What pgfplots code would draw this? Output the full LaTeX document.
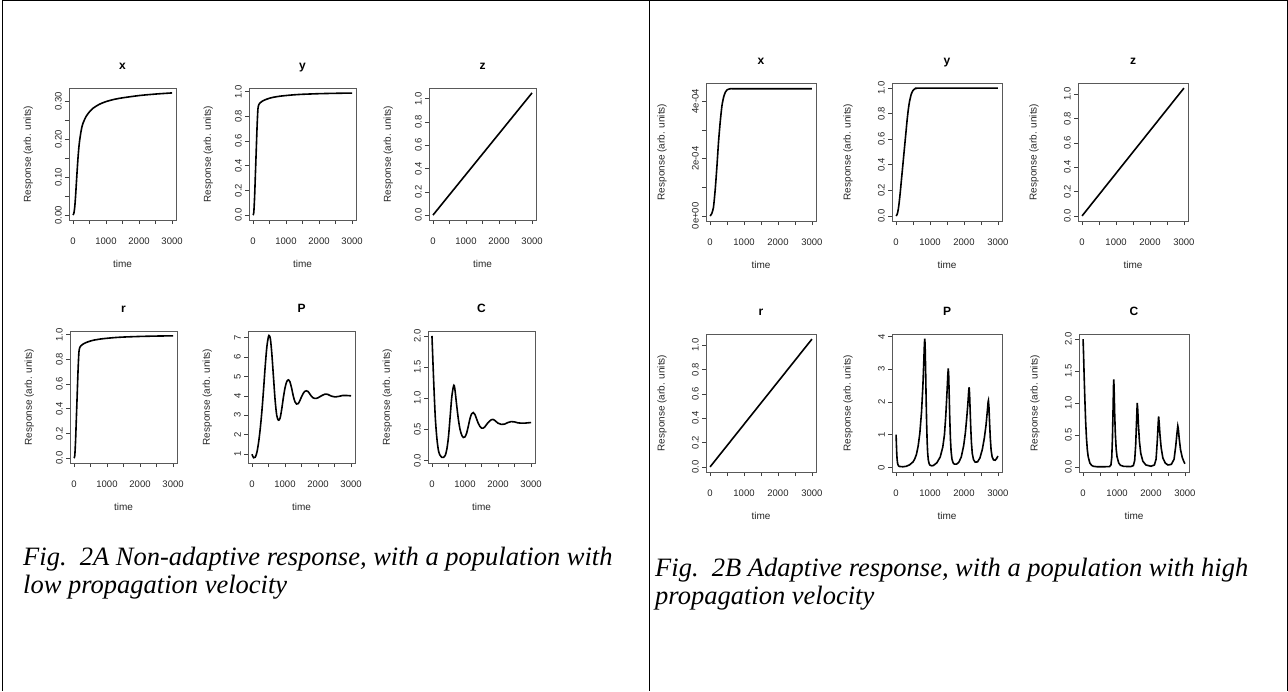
\documentclass[border=0pt]{standalone}
\usepackage{fontspec}
\setmainfont{Liberation Sans}
\newfontfamily\capfont{Liberation Serif}
\usepackage{pgfplots}
\pgfplotsset{compat=1.18}

\pgfplotsset{
  rplot/.style={
    scale only axis, anchor=south west,
    xmin=-120, xmax=3120,
    xtick={0,500,1000,1500,2000,2500,3000},
    xticklabels={0,,1000,,2000,,3000},
    tick align=outside, xtick pos=bottom, ytick pos=left,
    major tick length=4pt,
    tick style={black!75, line width=0.6pt},
    axis line style={black!65, line width=0.8pt},
    ticklabel style={font=\fontsize{9.5}{11}\selectfont, text=black!85},
    /pgf/number format/assume math mode=true,
    xticklabel style={anchor=north, inner sep=0pt, yshift=-14pt},
    yticklabel style={rotate=90, anchor=south, inner xsep=0pt, inner ysep=3pt},
    scaled ticks=false,
    xlabel={time}, ylabel={Response (arb. units)},
    label style={font=\fontsize{10}{12}\selectfont, text=black!85},
    xlabel style={at={(axis description cs:0.5,0)}, anchor=center, yshift=-44pt},
    title style={font=\fontsize{12}{14}\selectfont\bfseries, at={(axis description cs:0.5,1)}, anchor=base, yshift=13pt},
    cycle list={{black, no markers}},
    every axis plot/.append style={black, line width=1.6pt},
  },
  rA/.style={rplot, width=107pt, height=132pt,
    ylabel style={at={(axis description cs:-0.38,0.5)}, anchor=center}},
  rB/.style={rplot, width=110pt, height=138pt,
    ylabel style={at={(axis description cs:-0.40,0.5)}, anchor=center}},
  unit/.style={ymin=-0.04, ymax=1.03, ytick={0,0.2,0.4,0.6,0.8,1}, yticklabels={0.0,0.2,0.4,0.6,0.8,1.0}},
  lin/.style={ymin=-0.042, ymax=1.092, ytick={0,0.2,0.4,0.6,0.8,1}, yticklabels={0.0,0.2,0.4,0.6,0.8,1.0}},
}

\begin{document}
\begin{tikzpicture}
\path[use as bounding box] (0,0) rectangle (1288pt,-691pt);
% table frame
\draw[line width=1pt] (2.5pt,0.5pt) -- (2.5pt,-691pt);
\draw[line width=1pt] (649pt,0.5pt) -- (649pt,-691pt);
\draw[line width=1pt] (1287pt,0.5pt) -- (1287pt,-691pt);
\draw[line width=1pt] (2pt,-0.5pt) -- (1287.5pt,-0.5pt);

% ---------------- panel A ----------------
\begin{axis}[rA, at={(69pt,-220pt)}, title={x},
  ymin=-0.013, ymax=0.336, ytick={0,0.05,0.1,0.15,0.2,0.25,0.3},
  yticklabels={0.00,,0.10,,0.20,,0.30}]
\addplot+[smooth] coordinates {(0,0) (25,0.004) (50,0.018) (75,0.045) (100,0.08) (125,0.115)
  (150,0.148) (175,0.175) (200,0.196) (250,0.224) (300,0.242) (400,0.261) (500,0.273)
  (600,0.282) (800,0.293) (1000,0.300) (1250,0.306) (1500,0.310) (2000,0.316) (2500,0.320) (3000,0.323)};
\end{axis}

\begin{axis}[rA, at={(249pt,-220pt)}, title={y}, unit]
\addplot+[smooth, tension=0.4] coordinates {(0,0) (25,0.02) (50,0.15) (75,0.34) (100,0.53) (125,0.72)
  (150,0.86) (175,0.893) (200,0.905) (250,0.917) (300,0.926) (400,0.938) (500,0.947)
  (600,0.954) (800,0.963) (1000,0.969) (1250,0.975) (1500,0.979) (2000,0.984) (2500,0.987) (3000,0.989)};
\end{axis}

\begin{axis}[rA, at={(429pt,-220pt)}, title={z}, lin]
\addplot coordinates {(0,0) (3000,1.05)};
\end{axis}

\begin{axis}[rA, at={(70pt,-463pt)}, title={r}, unit]
\addplot+[smooth, tension=0.4] coordinates {(0,0) (25,0.02) (50,0.15) (75,0.34) (100,0.53) (125,0.72)
  (150,0.86) (175,0.895) (200,0.907) (250,0.919) (300,0.928) (400,0.94) (500,0.949)
  (600,0.956) (800,0.965) (1000,0.971) (1250,0.977) (1500,0.981) (2000,0.986) (2500,0.989) (3000,0.991)};
\end{axis}

\begin{axis}[rA, at={(248pt,-463pt)}, title={P},
  ymin=0.55, ymax=7.33, ytick={1,2,3,4,5,6,7}, yticklabels={1,2,3,4,5,6,7}]
\addplot+[smooth] coordinates {(0,1.0) (50,0.82) (100,0.85) (150,1.1) (200,1.6) (250,2.3)
  (300,3.2) (350,4.3) (400,5.5) (450,6.5) (500,7.05) (530,7.08) (560,6.9) (600,6.2)
  (650,5.0) (700,3.8) (750,3.0) (800,2.75) (850,2.85) (900,3.3) (950,3.9) (1000,4.4)
  (1050,4.72) (1100,4.82) (1150,4.72) (1200,4.4) (1250,4.0) (1300,3.7) (1350,3.58)
  (1400,3.6) (1450,3.75) (1500,3.95) (1550,4.12) (1600,4.23) (1650,4.26) (1700,4.22)
  (1750,4.1) (1800,3.98) (1850,3.9) (1900,3.87) (1950,3.87) (2000,3.9) (2100,4.0)
  (2200,4.08) (2250,4.09) (2300,4.07) (2400,3.99) (2500,3.95) (2550,3.95) (2650,3.98)
  (2750,4.02) (2850,4.02) (3000,4.0)};
\end{axis}

\begin{axis}[rA, at={(428pt,-463pt)}, title={C},
  ymin=-0.04, ymax=2.08, ytick={0,0.5,1,1.5,2}, yticklabels={0.0,0.5,1.0,1.5,2.0}]
\addplot+[smooth] coordinates {(0,2.0) (50,1.3) (100,0.7) (150,0.35) (200,0.15) (250,0.08)
  (300,0.05) (350,0.05) (400,0.08) (450,0.18) (500,0.38) (550,0.7) (600,1.02) (650,1.19)
  (675,1.2) (700,1.12) (750,0.88) (800,0.66) (850,0.5) (900,0.41) (950,0.37) (1000,0.38)
  (1050,0.44) (1100,0.55) (1150,0.67) (1200,0.75) (1250,0.77) (1300,0.74) (1350,0.67)
  (1400,0.6) (1450,0.55) (1500,0.52) (1550,0.52) (1600,0.54) (1700,0.61) (1800,0.655)
  (1850,0.66) (1900,0.645) (2000,0.60) (2100,0.58) (2200,0.585) (2300,0.61) (2400,0.625)
  (2500,0.62) (2600,0.605) (2700,0.6) (2800,0.6) (2900,0.605) (3000,0.61)};
\end{axis}

% ---------------- panel B ----------------
\begin{axis}[rB, at={(706pt,-221pt)}, title={x},
  ymin=-0.0000178, ymax=0.000464, ytick={0,0.0001,0.0002,0.0003,0.0004},
  yticklabels={0e+00,,2e-04,,4e-04}]
\addplot+[smooth, tension=0.4] coordinates {(0,0) (50,0.000008) (100,0.00003) (150,0.00009)
  (200,0.00017) (250,0.00026) (300,0.00033) (350,0.000385) (400,0.000415) (450,0.000432)
  (500,0.00044) (600,0.000444) (800,0.000444) (3000,0.000444)};
\end{axis}

\begin{axis}[rB, at={(892pt,-221pt)}, title={y}, unit, ymax=1.04]
\addplot+[smooth, tension=0.4] coordinates {(0,0) (25,0.008) (50,0.03) (75,0.07) (100,0.125)
  (125,0.19) (150,0.26) (175,0.33) (200,0.40) (225,0.47) (250,0.54) (275,0.61) (300,0.68)
  (325,0.75) (350,0.81) (375,0.86) (400,0.9) (450,0.955) (500,0.982) (550,0.994)
  (600,0.998) (700,1.0) (3000,1.0)};
\end{axis}

\begin{axis}[rB, at={(1078pt,-221pt)}, title={z}, lin]
\addplot coordinates {(0,0) (3000,1.05)};
\end{axis}

\begin{axis}[rB, at={(706pt,-472pt)}, title={r}, lin]
\addplot coordinates {(0,0) (3000,1.05)};
\end{axis}

\begin{axis}[rB, at={(892pt,-472pt)}, title={P},
  ymin=-0.14, ymax=4.08, ytick={0,1,2,3,4}, yticklabels={0,1,2,3,4}]
\addplot coordinates {(0,1.0) (10,0.7) (20,0.42) (30,0.25) (45,0.12) (70,0.05) (100,0.03)
  (200,0.02) (300,0.035) (400,0.08) (500,0.17) (550,0.26) (600,0.4) (650,0.65) (700,1.05)
  (750,1.7) (790,2.5) (815,3.2) (835,3.8) (845,3.94) (855,3.75) (870,3.0) (885,2.1)
  (900,1.35) (915,0.8) (930,0.45) (950,0.22) (975,0.11) (1000,0.07) (1050,0.05) (1100,0.06)
  (1200,0.14) (1300,0.32) (1375,0.62) (1425,1.0) (1465,1.6) (1500,2.3) (1525,2.85)
  (1538,3.03) (1550,2.8) (1565,2.2) (1580,1.55) (1600,0.9) (1620,0.5) (1645,0.26)
  (1680,0.14) (1720,0.1) (1780,0.1) (1850,0.16) (1920,0.32) (1990,0.66) (2040,1.05)
  (2080,1.5) (2115,1.95) (2140,2.35) (2152,2.45) (2165,2.25) (2180,1.8) (2200,1.2)
  (2220,0.75) (2245,0.42) (2280,0.24) (2330,0.16) (2400,0.17) (2470,0.29) (2540,0.55)
  (2600,0.9) (2650,1.3) (2690,1.75) (2712,2.02) (2720,2.05) (2735,1.85) (2755,1.35)
  (2775,0.9) (2800,0.52) (2830,0.32) (2870,0.23) (2920,0.22) (2960,0.27) (3000,0.35)};
\end{axis}

\begin{axis}[rB, at={(1079pt,-472pt)}, title={C},
  ymin=-0.08, ymax=2.08, ytick={0,0.5,1,1.5,2}, yticklabels={0.0,0.5,1.0,1.5,2.0}]
\addplot coordinates {(0,2.0) (15,1.75) (30,1.45) (50,1.1) (75,0.72) (100,0.45) (125,0.27)
  (150,0.16) (200,0.06) (250,0.025) (300,0.01) (400,0.003) (600,0.002) (780,0.005)
  (820,0.03) (845,0.15) (865,0.45) (885,0.95) (898,1.3) (905,1.37) (915,1.2) (930,0.85)
  (950,0.52) (975,0.28) (1000,0.16) (1050,0.06) (1100,0.025) (1200,0.008) (1400,0.005)
  (1480,0.02) (1520,0.1) (1550,0.35) (1575,0.72) (1595,1.0) (1610,0.9) (1630,0.66)
  (1660,0.4) (1700,0.21) (1760,0.09) (1850,0.03) (2000,0.01) (2100,0.03) (2150,0.12)
  (2185,0.4) (2210,0.66) (2225,0.79) (2240,0.7) (2265,0.5) (2300,0.3) (2350,0.14)
  (2420,0.06) (2500,0.03) (2600,0.04) (2680,0.12) (2730,0.33) (2770,0.55) (2790,0.64)
  (2805,0.6) (2830,0.45) (2870,0.27) (2920,0.15) (2970,0.08) (3000,0.05)};
\end{axis}

% captions
\begin{scope}[every node/.style={anchor=base west, inner sep=0pt, font=\capfont\itshape\fontsize{26.5}{28}\selectfont}]
\node at (23pt,-565pt) {Fig.\ \ 2A Non-adaptive response, with a population with};
\node at (23pt,-593pt) {low propagation velocity};
\node at (655pt,-576pt) {Fig.\ \ 2B Adaptive response, with a population with high};
\node at (655pt,-604pt) {propagation velocity};
\end{scope}
\end{tikzpicture}
\end{document}
